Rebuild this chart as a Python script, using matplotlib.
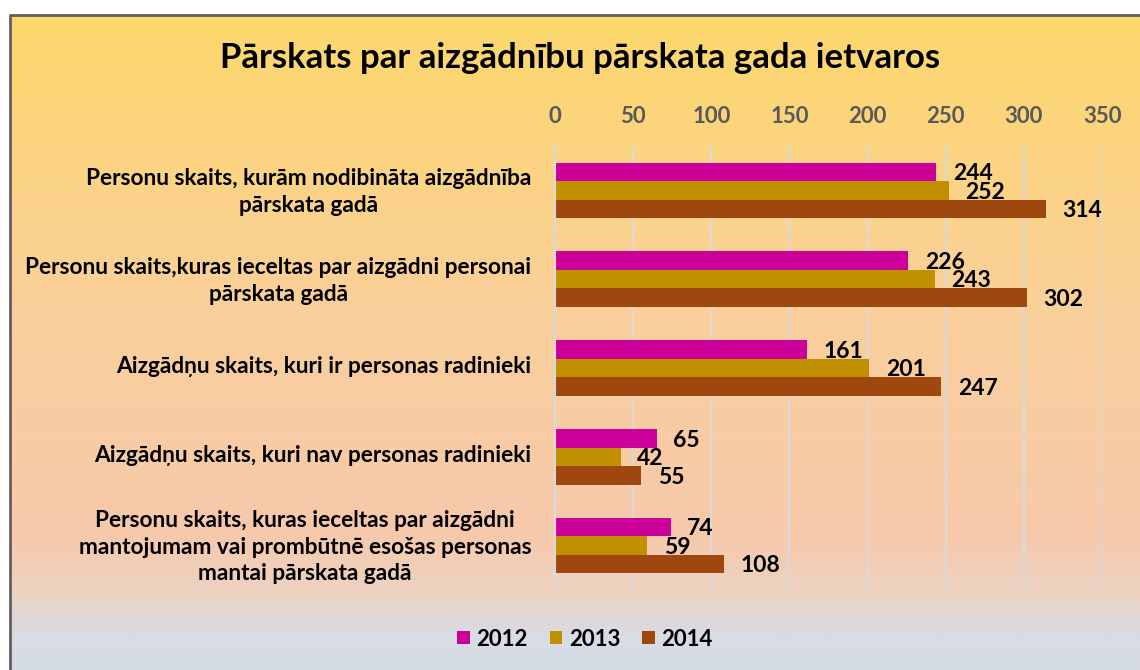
import matplotlib.pyplot as plt
import numpy as np
from matplotlib.colors import LinearSegmentedColormap
from matplotlib.patches import Rectangle

plt.rcParams['font.family'] = ['Lato', 'DejaVu Sans']
plt.rcParams['font.weight'] = 'bold'

categories = [
    "Personu skaits, kurām nodibināta aizgādnība\npārskata gadā",
    "Personu skaits,kuras ieceltas par aizgādni personai\npārskata gadā",
    "Aizgādņu skaits, kuri ir personas radinieki",
    "Aizgādņu skaits, kuri nav personas radinieki",
    "Personu skaits, kuras ieceltas par aizgādni\nmantojumam vai prombūtnē esošas personas\nmantai pārskata gadā",
]
years = ["2012", "2013", "2014"]
v2012 = [244, 226, 161, 65, 74]
v2013 = [252, 243, 201, 42, 59]
v2014 = [314, 302, 247, 55, 108]
colors = ["#CC0099", "#C09000", "#9E470E"]
ticks = [0, 50, 100, 150, 200, 250, 300, 350]


def main():
    fig = plt.figure(figsize=(11.4, 6.7), dpi=100)

    # gradient background
    bg = fig.add_axes([0, 0, 1, 1], zorder=0)
    cmap = LinearSegmentedColormap.from_list(
        "bg", [(0, "#D6DCE6"), (0.05, "#D9DCE3"), (0.12, "#EED2C0"),
               (0.2, "#F7C9AC"), (0.55, "#FAD09A"), (1.0, "#FDD868")])
    grad = np.linspace(0, 1, 256).reshape(-1, 1)
    bg.imshow(grad, aspect="auto", cmap=cmap, origin="lower",
              extent=[0, 1, 0, 1])
    bg.add_patch(Rectangle((0, 1 - 14 / 670), 1, 14 / 670, color="white", zorder=2))
    bg.add_patch(Rectangle((0, 0), 9 / 1140, 1, color="white", zorder=2))
    bg.plot([10 / 1140, 10 / 1140, 1], [0, 1 - 15 / 670, 1 - 15 / 670],
            color="#606060", lw=2, zorder=3)
    bg.set_xlim(0, 1)
    bg.set_ylim(0, 1)
    bg.axis("off")

    ax = fig.add_axes([555 / 1140, 1 - 590 / 670, 547 / 1140, 444 / 670],
                      zorder=1)
    ax.patch.set_alpha(0)
    y = np.arange(len(categories))
    h = 0.208
    for k, (vals, c, yr) in enumerate(zip([v2012, v2013, v2014], colors, years)):
        pos = y + (k - 1) * h
        bars = ax.barh(pos, vals, height=h, color=c, label=yr, zorder=2)
        for b, v in zip(bars, vals):
            ax.annotate(str(v), (v, b.get_y() + h / 2 + 0.02),
                        xytext=(12, 0), textcoords="offset points",
                        va="center", ha="left", fontsize=16.5,
                        fontweight="bold", color="black")

    ax.set_xlim(0, 350)
    ax.set_ylim(len(categories) - 0.5, -0.5)
    ax.set_xticks(ticks)
    ax.xaxis.tick_top()
    ax.tick_params(axis="x", length=0, pad=14, labelsize=16,
                   labelcolor="#595959")
    ax.set_yticks(y - 0.04)
    ax.set_yticklabels(categories, fontsize=16.3, multialignment="center",
                       linespacing=1.35)
    ax.tick_params(axis="y", length=0, pad=17)
    ax.grid(axis="x", color="#D9D9D9", lw=1.5, zorder=0)
    for s in ["top", "right", "bottom"]:
        ax.spines[s].set_visible(False)
    ax.spines["left"].set_color("#D9D9D9")
    ax.spines["left"].set_linewidth(1.5)

    fig.text(580 / 1140, 1 - 58 / 670,
             "Pārskats par aizgādnību pārskata gada ietvaros",
             ha="center", va="center", fontsize=25, fontweight="bold")

    fig.legend(loc="center", bbox_to_anchor=(585 / 1140, 1 - 639 / 670),
               ncol=3, frameon=False, fontsize=16, handlelength=0.55,
               handleheight=0.55, columnspacing=1.0, handletextpad=0.3)

    fig.savefig("out.png", dpi=100)


if __name__ == "__main__":
    main()
